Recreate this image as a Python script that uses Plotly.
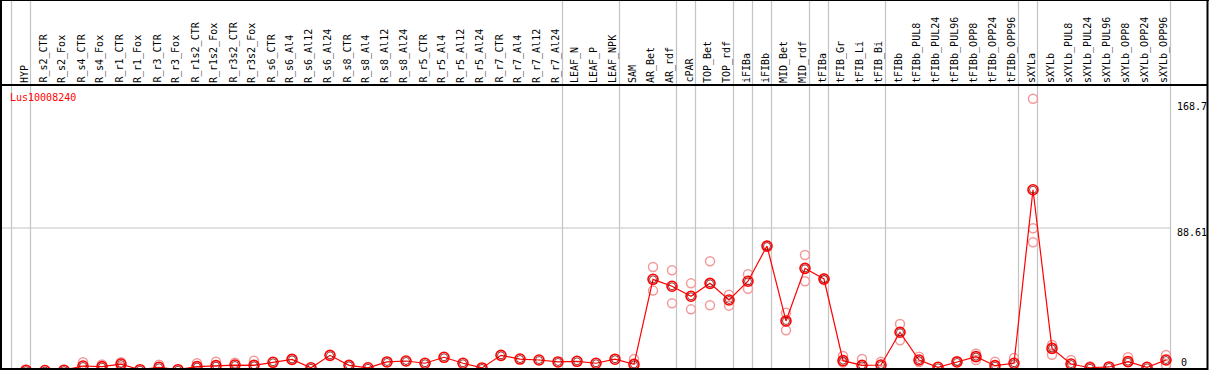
import plotly.graph_objects as go

categories = ["HYP", "R_s2_CTR", "R_s2_Fox", "R_s4_CTR", "R_s4_Fox", "R_r1_CTR", "R_r1_Fox",
              "R_r3_CTR", "R_r3_Fox", "R_r1s2_CTR", "R_r1s2_Fox", "R_r3s2_CTR", "R_r3s2_Fox",
              "R_s6_CTR", "R_s6_Al4", "R_s6_Al12", "R_s6_Al24", "R_s8_CTR", "R_s8_Al4", "R_s8_Al12",
              "R_s8_Al24", "R_r5_CTR", "R_r5_Al4", "R_r5_Al12", "R_r5_Al24", "R_r7_CTR", "R_r7_Al4",
              "R_r7_Al12", "R_r7_Al24", "LEAF_N", "LEAF_P", "LEAF_NPK", "SAM", "AR_Bet", "AR_rdf",
              "cPAR", "TOP_Bet", "TOP_rdf", "iFIBa", "iFIBb", "MID_Bet", "MID_rdf", "tFIBa",
              "tFIB_Gr", "tFIB_Li", "tFIB_Bi", "tFIBb", "tFIBb_PUL8", "tFIBb_PUL24", "tFIBb_PUL96",
              "tFIBb_OPP8", "tFIBb_OPP24", "tFIBb_OPP96", "sXYLa", "sXYLb", "sXYLb_PUL8",
              "sXYLb_PUL24", "sXYLb_PUL96", "sXYLb_OPP8", "sXYLb_OPP24", "sXYLb_OPP96"]

mean_values = [0.5, 0.3, 0.5, 3.1, 2.7, 4.3, 0.8, 2.3, 0.8, 2.7, 3.3, 3.7, 3.5,
               5.4, 7.2, 2.0, 9.7, 3.5, 2.0, 5.6, 6.2, 4.8, 8.5, 4.8, 1.9, 9.7, 7.4,
               6.8, 5.6, 6.0, 4.8, 7.3, 4.1, 56.8, 52.5, 46.3, 54.3, 44.0, 55.6, 77.4,
               31.0, 63.6, 57.0, 6.4, 3.5, 3.7, 24.0, 6.8, 2.3, 5.6, 8.9, 3.3, 4.8,
               112.3, 14.0, 4.3, 2.0, 2.5, 5.8, 2.3, 6.8]

N = None
rep_a = [N, N, N, 5.4, 4.1, 5.4, N, 3.9, N, 4.8, 5.8, 5.1, 6.4,
         N, N, N, N, N, N, N, N, N, N, N, N, N, N,
         N, N, N, N, N, 7.4, 64.4, 62.4, 54.3, 68.0, 47.3, 59.9, 77.4,
         36.1, 71.9, 57.5, 9.3, 7.4, 5.8, 29.1, 8.9, N, 6.2, 10.9, 5.8, 8.1,
         168.7, 16.1, 6.8, 3.0, N, 8.5, N, 9.9]
rep_b = [N, N, N, N, N, 2.5, N, N, N, N, N, N, N,
         N, N, N, N, N, N, N, N, N, N, N, N, N, N,
         N, N, N, N, N, N, 49.8, 41.9, 38.2, 40.7, 40.5, 51.0, N,
         25.2, 55.6, 56.3, 5.2, N, N, 19.0, 5.6, N, N, 6.8, N, N,
         88.4, 10.1, N, N, N, N, N, 3.7]
rep_c = [N] * 53 + [79.7] + [N] * 7

axis_labels = ["168.7", "88.61", "0"]
grid_value = 88.61
group_starts = [0, 1, 29, 32, 35, 36, 38, 39, 40, 42, 43, 46, 53, 54, 61]

W, H = 1209, 370
x0_px, dx_px = 26.0, 19.0
y0_px, dy_px = 371.0, 1.614

xr = [(0 - x0_px) / dx_px, (W - x0_px) / dx_px]
yr = [(y0_px - H) / dy_px, y0_px / dy_px]

def py_to_paper(py):
    return 1 - py / H

xs = list(range(len(categories)))
RED = "#ff0000"
PINK = "#f29a9a"
FONT = "DejaVu Sans Mono"

fig = go.Figure()

for rep in (rep_a, rep_b, rep_c):
    fig.add_trace(go.Scatter(
        x=xs, y=rep, mode="markers",
        marker=dict(symbol="circle-open", size=9, color=PINK, line=dict(width=1.5, color=PINK)),
        hoverinfo="skip", showlegend=False))

fig.add_trace(go.Scatter(
    x=xs, y=mean_values, mode="lines+markers",
    line=dict(color=RED, width=1.2),
    marker=dict(symbol="circle-open", size=10, color=RED, line=dict(width=1.6, color=RED)),
    showlegend=False))
fig.add_trace(go.Scatter(
    x=xs, y=mean_values, mode="markers",
    marker=dict(symbol="circle-open", size=7, color="#700000", line=dict(width=0.8, color="#700000")),
    hoverinfo="skip", showlegend=False))

shapes = []
for g in group_starts:
    xg = g - 14.5 / dx_px
    shapes.append(dict(type="line", xref="x", yref="paper", x0=xg, x1=xg, y0=0, y1=1,
                       line=dict(color="#c4c4c4", width=1.2), layer="below"))
shapes.append(dict(type="line", xref="x", yref="y", x0=xr[0], x1=61 - 14.5 / dx_px,
                   y0=grid_value, y1=grid_value, line=dict(color="#c4c4c4", width=1.2), layer="below"))
blk = dict(color="black", width=2)
shapes.append(dict(type="line", xref="paper", yref="paper", x0=0, x1=1, y0=1, y1=1, line=blk))
shapes.append(dict(type="line", xref="paper", yref="paper", x0=0, x1=1207.5 / W,
                   y0=py_to_paper(85), y1=py_to_paper(85), line=blk))
shapes.append(dict(type="line", xref="paper", yref="paper", x0=1 / W, x1=1 / W, y0=0, y1=1, line=blk))
shapes.append(dict(type="line", xref="paper", yref="paper", x0=1207.5 / W, x1=1207.5 / W, y0=0, y1=1, line=blk))
shapes.append(dict(type="line", xref="paper", yref="paper", x0=0, x1=1207.5 / W,
                   y0=py_to_paper(369), y1=py_to_paper(369), line=blk))

annotations = []
for i, c in enumerate(categories):
    annotations.append(dict(
        x=i - 2 / dx_px, xref="x", y=py_to_paper(84), yref="paper",
        text=c, textangle=-90, showarrow=False, xanchor="center", yanchor="bottom",
        borderpad=0, font=dict(family=FONT, size=10, color="black")))

annotations.append(dict(x=9 / W, xref="paper", y=py_to_paper(97), yref="paper",
                        text="Lus10008240", showarrow=False, xanchor="left", yanchor="middle",
                        borderpad=0, font=dict(family=FONT, size=10, color=RED)))
for txt, py, px in zip(axis_labels, [107, 232, 362], [1176, 1176, 1180]):
    annotations.append(dict(x=px / W, xref="paper", y=py_to_paper(py), yref="paper",
                            text=txt, showarrow=False, xanchor="left", yanchor="middle",
                            borderpad=0, font=dict(family=FONT, size=10, color="black")))

fig.update_layout(
    width=W, height=H, autosize=False,
    margin=dict(l=0, r=0, t=0, b=0, pad=0),
    paper_bgcolor="white", plot_bgcolor="white",
    xaxis=dict(range=xr, visible=False, showgrid=False, zeroline=False, fixedrange=True),
    yaxis=dict(range=yr, visible=False, showgrid=False, zeroline=False, fixedrange=True),
    shapes=shapes, annotations=annotations, showlegend=False)

fig.write_html("out.html", config={"displayModeBar": False},
               post_script="document.body.style.margin='0';document.body.style.overflow='hidden';")
